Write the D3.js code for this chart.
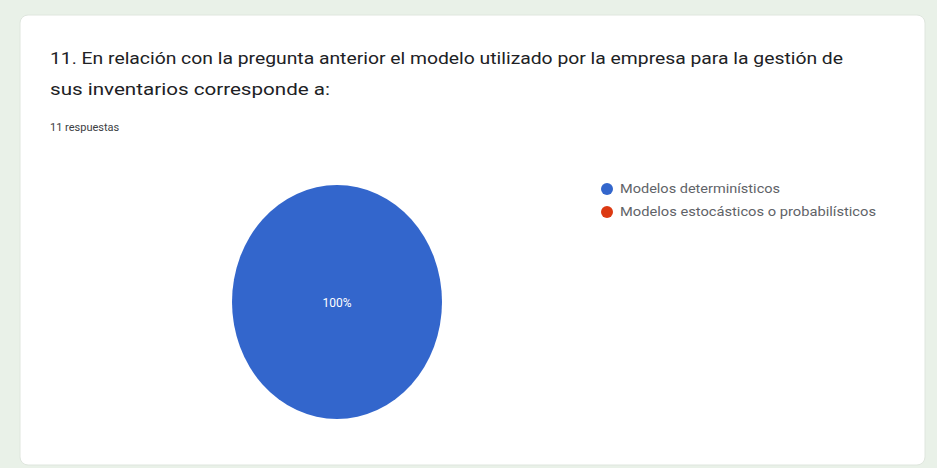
<!DOCTYPE html>
<html>
<head>
<meta charset="utf-8">
<script src="https://cdn.jsdelivr.net/npm/d3@7"></script>
<style>
  body { margin: 0; background: #e9f1e8; }
  svg { display: block; }
</style>
</head>
<body>
<div id="chart"></div>
<script>
var titleLines = [
  "11. En relación con la pregunta anterior el modelo utilizado por la empresa para la gestión de",
  "sus inventarios corresponde a:"
];
var subtitle = "11 respuestas";
var categories = ["Modelos determinísticos", "Modelos estocásticos o probabilísticos"];
var values = [11, 0];
var colors = ["#3366cc", "#dc3912"];

var w = 937;
var h = 468;

var svg = d3.select("#chart")
  .append("svg")
  .attr("width", w)
  .attr("height", h);

// card
svg.append("rect")
  .attr("x", 20)
  .attr("y", 15)
  .attr("width", 905)
  .attr("height", 450)
  .attr("rx", 8)
  .attr("fill", "#fff")
  .attr("stroke", "#dfe6de");

svg.selectAll(".title")
  .data(titleLines)
  .enter()
  .append("text")
  .attr("class", "title")
  .attr("x", 50)
  .attr("y", (d, i) => 64 + i * 31)
  .attr("textLength", (d, i) => i === 0 ? 793 : 280)
  .attr("lengthAdjust", "spacingAndGlyphs")
  .style("font-family", "Roboto, 'Open Sans', sans-serif")
  .style("font-size", "16px")
  .style("fill", "#202124")
  .text(d => d);

svg.append("text")
  .attr("x", 50)
  .attr("y", 131)
  .style("font-family", "Roboto, sans-serif")
  .style("font-size", "11px")
  .style("fill", "#3c4043")
  .text(subtitle);

var total = d3.sum(values);
var pie = d3.pie().sort(null).value(d => d);
var arcs = pie(values);

var radius = 100;
var arc = d3.arc().innerRadius(0).outerRadius(radius);

// the screenshot is stretched, pie is an ellipse
var pieG = svg.append("g")
  .attr("transform", "translate(337,302) scale(1.05,1.17)");

pieG.selectAll("path")
  .data(arcs)
  .enter()
  .append("path")
  .attr("d", arc)
  .attr("fill", (d, i) => colors[i]);

svg.selectAll(".slice-label")
  .data(arcs.filter(d => d.value > 0))
  .enter()
  .append("text")
  .attr("class", "slice-label")
  .attr("x", d => 337 + (d.endAngle - d.startAngle >= 2 * Math.PI - 1e-6 ? 0 : arc.centroid(d)[0]))
  .attr("y", d => 307 + (d.endAngle - d.startAngle >= 2 * Math.PI - 1e-6 ? 0 : arc.centroid(d)[1]))
  .attr("text-anchor", "middle")
  .style("font-family", "Roboto, sans-serif")
  .style("font-size", "12px")
  .style("fill", "#fff")
  .text(d => Math.round(d.value / total * 100) + "%");

// legend
var legend = svg.selectAll(".legend")
  .data(categories)
  .enter()
  .append("g")
  .attr("class", "legend")
  .attr("transform", (d, i) => "translate(607," + (189 + i * 23) + ")");

legend.append("circle")
  .attr("r", 6)
  .attr("fill", (d, i) => colors[i]);

legend.append("text")
  .attr("x", 13)
  .attr("y", 4)
  .attr("textLength", (d, i) => i === 0 ? 160 : 256)
  .attr("lengthAdjust", "spacingAndGlyphs")
  .style("font-family", "Roboto, sans-serif")
  .style("font-size", "12px")
  .style("fill", "#5f6368")
  .text(d => d);
</script>
</body>
</html>
